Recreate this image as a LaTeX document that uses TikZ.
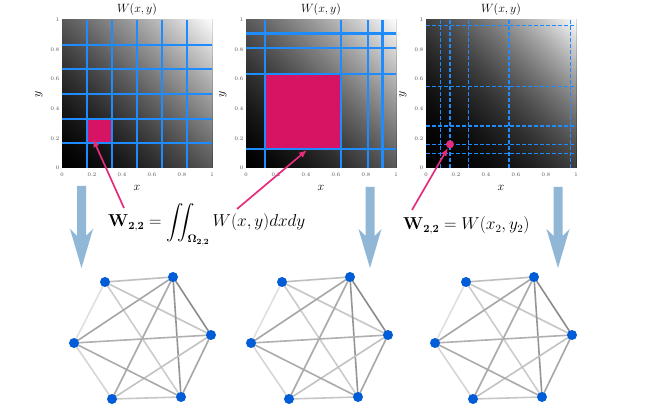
\documentclass[tikz,border=0pt]{standalone}
\usepackage{amsmath}
\usetikzlibrary{arrows.meta}
\definecolor{gridblue}{RGB}{30,140,255}
\definecolor{pinkline}{RGB}{230,45,125}
\definecolor{pinkfill}{RGB}{215,20,100}
\definecolor{arrowblue}{RGB}{145,183,215}
\definecolor{nodeblue}{RGB}{0,92,215}
\pgfdeclarelayer{paper}
\pgfdeclarelayer{edges}
\pgfsetlayers{paper,edges,main}
\tikzset{
  tick/.style={font=\fontsize{5.5}{6}\selectfont, text=black!70, inner sep=0.5pt},
  title/.style={font=\fontsize{13}{15}\selectfont, inner sep=0pt},
  gridline/.style={draw=gridblue, line width=1.8pt},
  dashline/.style={draw=gridblue, line width=1.2pt, dash pattern=on 4pt off 2pt},
  pinkarrow/.style={draw=pinkline, line width=1.7pt, -{Latex[length=8pt,width=6.5pt]}},
  gnode/.style={circle, fill=nodeblue, inner sep=0pt, minimum size=10pt},
  gedge/.style={line width=1.6pt},
  formula/.style={font=\fontsize{16}{19}\selectfont, inner sep=0pt}
}
\newcommand{\gradsq}[3]{%
 \begin{scope}[shift={(#1,#2)}, x=150pt, y=148pt]
  \clip (0,0) rectangle (1,1);
  \fill[black] (0,0) rectangle (1,1);
  \foreach \i in {1,...,100}{
    \pgfmathsetmacro\c{\i/50}
    \pgfmathsetmacro\g{100*min(1,((\c)/2)^#3)}
    \fill[white!\g!black] (\c+3,-3) -- (6,-3) -- (6,6) -- (-3,6) -- (-3,\c+3) -- cycle;
  }
 \end{scope}}
\newcommand{\axes}[3]{% prefix, left, bottom
  \foreach \l [count=\i] in {0,0.2,0.4,0.6,0.8,1} {
    \node[tick] (#1x\i) at ({#2+150*(\i-1)/5},175) {\l};
    \node[tick, anchor=east] (#1y\i) at ({#2-2},{#3-148*(\i-1)/5}) {\l};
  }
  \node[title] (#1title) at ({#2+75},10) {$W(x,y)$};
  \node[title] (#1xl) at ({#2+75},188) {$x$};
  \node[title, rotate=90] (#1yl) at ({#2-23},94) {$y$};
}
\newcommand{\bigarrow}[3]{% x, top, tip
  \fill[arrowblue] ({#1-4.5},#2) -- ({#1+4.5},#2) -- ({#1+4.5},236) -- ({#1+11.5},229)
    -- (#1,#3) -- ({#1-11.5},229) -- ({#1-4.5},236) -- cycle;
}
\newcommand{\wgraph}[3]{% prefix, Ax, Ay
  \node[gnode] (#1A) at (#2,#3) {};
  \node[gnode] (#1B) at ({#2+68},{#3-5}) {};
  \node[gnode] (#1C) at ({#2+106},{#3+53}) {};
  \node[gnode] (#1D) at ({#2+76},{#3+115}) {};
  \node[gnode] (#1E) at ({#2+7},{#3+117}) {};
  \node[gnode] (#1F) at ({#2-31},{#3+61}) {};
  \begin{pgfonlayer}{edges}
  \foreach \u/\v/\d in {A/B/25,A/C/22,A/D/20,A/F/12,B/C/45,B/D/41,B/E/33,B/F/35,
                        C/D/35,C/E/24,C/F/31,D/E/22,D/F/33,E/F/16} {
    \draw[gedge, draw=black!\d] (#1\u.center) -- (#1\v.center);
  }
  \end{pgfonlayer}
}
\begin{document}
\begin{tikzpicture}[x=1pt, y=-1pt]
\useasboundingbox (0,0) rectangle (649,417);
\begin{pgfonlayer}{paper}
\fill[white] (0,0) rectangle (649,417);
\end{pgfonlayer}

% ---------- plot 1
\gradsq{62}{168}{1.5}
\begin{scope}[shift={(62,168)}, x=150pt, y=148pt]
  \fill[pinkfill] (1/6,1/6) rectangle (2/6,2/6);
  \foreach \t in {1,...,5} {
    \draw[gridline] (\t/6,0) -- (\t/6,1);
    \draw[gridline] (0,\t/6) -- (1,\t/6);
  }
\end{scope}
\axes{pa}{62}{168}

% ---------- plot 2
\gradsq{246}{168}{1.5}
\begin{scope}[shift={(246,168)}, x=150pt, y=148pt]
  \fill[pinkfill] (0.128,0.128) rectangle (0.632,0.632);
  \foreach \t in {0.128,0.632,0.814} {
    \draw[gridline, line width=2pt] (\t,0) -- (\t,1);
    \draw[gridline, line width=2pt] (0,\t) -- (1,\t);
  }
  \draw[gridline, line width=2.6pt] (0.91,0) -- (0.91,1);
  \draw[gridline, line width=2.6pt] (0,0.91) -- (1,0.91);
\end{scope}
\axes{pb}{246}{168}

% ---------- plot 3
\gradsq{426}{168}{2}
\begin{scope}[shift={(426,168)}, x=150pt, y=148pt]
  \foreach \t in {0.098,0.16,0.284,0.553,0.962} {
    \draw[dashline] (\t,0) -- (\t,1);
    \draw[dashline] (0,\t) -- (1,\t);
  }
  \node[circle, fill=pinkline, inner sep=0pt, minimum size=8pt] (dot) at (0.16,0.16) {};
\end{scope}
\axes{pc}{426}{168}

% ---------- formulas
\node[formula, anchor=base west] (f1) at (108,227)
  {$\mathbf{W}_{\mathbf{2,2}} = \displaystyle\iint_{\mathbf{\Omega_{2,2}}} W(x,y)dxdy$};
\node[formula, anchor=base west] (f2) at (403,230)
  {$\mathbf{W}_{\mathbf{2,2}} = W(x_2,y_2)$};

% ---------- pink arrows
\coordinate (s1) at (124,208);
\coordinate (e1) at (93,139);
\coordinate (s2) at (237,209);
\coordinate (e2) at (307,150);
\coordinate (s3) at (412,210);
\draw[pinkarrow] (s1) -- (e1);
\draw[pinkarrow] (s2) -- (e2);
\draw[pinkarrow] (s3) -- (dot);

% ---------- blue arrows
\bigarrow{81.5}{186}{268}
\bigarrow{370}{187}{268}
\bigarrow{558}{187}{268}

% ---------- graphs
\wgraph{ga}{105}{282}
\wgraph{gb}{282}{282}
\wgraph{gc}{466}{282}
\end{tikzpicture}
\end{document}
